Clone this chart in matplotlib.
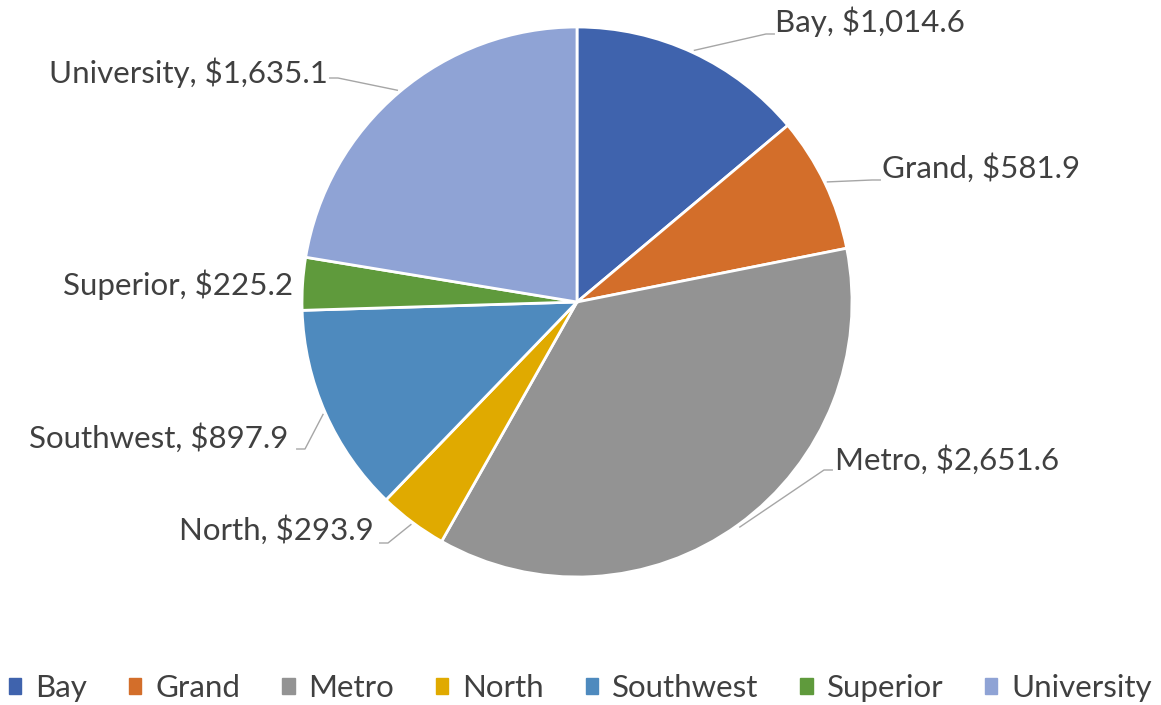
import numpy as np
import matplotlib
matplotlib.use('Agg')
import matplotlib.pyplot as plt

plt.rcParams['font.family'] = ['Lato', 'DejaVu Sans']

regions = ['Bay', 'Grand', 'Metro', 'North', 'Southwest', 'Superior', 'University']
values = [1014.6, 581.9, 2651.6, 293.9, 897.9, 225.2, 1635.1]
colors = ['#3F63AD', '#D36E2A', '#939393', '#E0AA00', '#4E8ABE', '#5F9A3C', '#8FA3D5']

# label anchor positions in pixels (x, y, ha) and elbow of leader line
label_pos = {
    'Bay': (775, 22, 'left', (766, 34)),
    'Grand': (882, 168, 'left', (872, 180)),
    'Metro': (835, 460, 'left', (824, 470)),
    'North': (374, 530, 'right', (388, 543)),
    'Southwest': (288, 438, 'right', (305, 449)),
    'Superior': (293, 285, 'right', None),
    'University': (328, 73, 'right', (338, 78)),
}

W, H = 1161, 705
cx, cy, R = 577, 302, 275
text_color = '#404040'
line_color = '#A6A6A6'
fs = 22.5

fig = plt.figure(figsize=(W / 100, H / 100), dpi=100)
ax = fig.add_axes([(cx - R) / W, (H - cy - R) / H, 2 * R / W, 2 * R / H])

wedges, _ = ax.pie(values, colors=colors, startangle=90, counterclock=False,
                   radius=1, wedgeprops=dict(edgecolor='white', linewidth=2))
ax.set_xlim(-1, 1)
ax.set_ylim(-1, 1)
ax.set_aspect('equal')
ax.axis('off')


def to_data(px, py):
    return (px - cx) / R, (cy - py) / R


for w, name, v in zip(wedges, regions, values):
    tx, ty, ha, elbow = label_pos[name]
    x, y = to_data(tx, ty)
    ax.text(x, y, f'{name}, ${v:,.1f}', ha=ha, va='center', fontsize=fs,
            color=text_color, clip_on=False)
    if elbow is not None:
        ang = np.deg2rad((w.theta1 + w.theta2) / 2)
        sx, sy = 1.01 * np.cos(ang), 1.01 * np.sin(ang)
        ex, ey = to_data(*elbow)
        end_x = ex + (0.03 if ha == 'left' else -0.03)
        ax.plot([sx, ex, end_x], [sy, ey, ey], color=line_color, lw=1,
                clip_on=False)

handles = [plt.Rectangle((0, 0), 1, 1, color=c) for c in colors]
fig.legend(handles, regions, loc='center', bbox_to_anchor=(0.5, 1 - 688 / H),
           ncol=7, frameon=False, fontsize=fs, handlelength=0.4,
           handleheight=0.4, handletextpad=0.45, columnspacing=1.33,
           labelcolor=text_color)

fig.savefig('out.png', dpi=100)
